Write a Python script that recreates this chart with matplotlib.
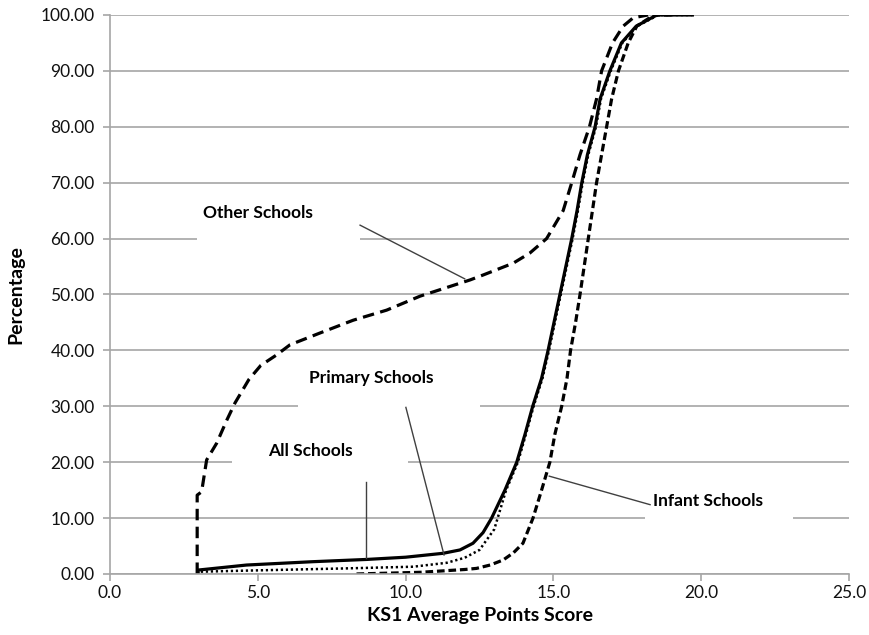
import matplotlib
matplotlib.use("Agg")
import matplotlib.pyplot as plt
from matplotlib.patches import Rectangle

plt.rcParams['font.family'] = ['Lato', 'DejaVu Sans']

# cumulative percentage of schools by KS1 average points score
all_x = [2.98, 2.98, 4.62, 6.87, 8.68, 10.0, 11.27, 11.84, 12.28, 12.62, 12.91, 13.36,
         13.76, 14.04, 14.3, 14.6, 14.82, 15.02, 15.22, 15.42, 15.62, 15.8, 15.96,
         16.15, 16.41, 16.58, 16.91, 17.3, 17.8, 18.5, 19.7]
all_y = [0, 0.7, 1.6, 2.2, 2.6, 3.0, 3.7, 4.3, 5.5, 7.4, 10, 15, 20, 25, 30, 35, 40,
         45, 50, 55, 60, 65, 70, 75, 80, 85, 90, 95, 98, 100, 100]

primary_x = [2.98, 2.98, 4.62, 8.0, 10.26, 11.39, 12.0, 12.5, 13.0, 13.4, 13.8,
             14.07, 14.33, 14.63, 14.85, 15.05, 15.25, 15.45, 15.65, 15.83, 15.99,
             16.18, 16.44, 16.61, 16.94, 17.33, 17.83, 18.55, 19.7]
primary_y = [0, 0.4, 0.6, 1.0, 1.3, 2.0, 2.9, 4.3, 8, 15, 20, 25, 30, 35, 40, 45,
             50, 55, 60, 65, 70, 75, 80, 85, 90, 95, 98, 100, 100]

infant_x = [8.34, 10.5, 12.0, 12.4, 12.86, 13.3, 13.65, 13.97, 14.31, 14.6, 14.88,
            15.05, 15.28, 15.46, 15.58, 15.75, 15.9, 16.04, 16.18, 16.32, 16.46,
            16.63, 16.8, 16.97, 17.2, 17.53, 17.82, 18.4, 19.0]
infant_y = [0, 0.3, 0.8, 1.0, 1.6, 2.5, 3.8, 5.5, 10, 15, 20, 25, 30, 35, 40, 45,
            50, 55, 60, 65, 70, 75, 80, 85, 90, 95, 98, 100, 100]

other_x = [2.95, 2.95, 3.1, 3.27, 3.61, 3.95, 4.23, 4.7, 5.1, 5.64, 6.09, 7.1, 8.23,
           9.36, 10.49, 12.18, 12.63, 13.64, 14.2, 14.77, 15.33, 15.62, 15.9, 16.22,
           16.46, 16.63, 17.0, 17.36, 17.7, 18.2]
other_y = [0, 14.1, 14.7, 20.4, 23.4, 27.5, 30.6, 34.8, 37.3, 39.2, 41, 43.1, 45.4,
           47.2, 49.7, 52.6, 53.5, 55.6, 57.4, 60, 65, 70, 75, 80, 85, 90, 95, 98,
           99.5, 100]

yticks = [0, 10, 20, 30, 40, 50, 60, 70, 80, 90, 100]
xticks = [0, 5, 10, 15, 20, 25]

fig = plt.figure(figsize=(8.7, 6.35), dpi=100)
ax = fig.add_axes([0.1264, 0.0961, 0.8495, 0.8803])

grey = '#a6a6a6'
ax.set_axisbelow(True)
ax.yaxis.grid(True, color=grey, linewidth=1.2)

ax.plot(other_x, other_y, color='black', lw=2.3, linestyle=(0, (3.6, 2.0)))
ax.plot(infant_x, infant_y, color='black', lw=2.3, linestyle=(0, (2.4, 1.2)))
ax.plot(primary_x, primary_y, color='black', lw=1.8, linestyle=(0, (0.9, 1.1)))
ax.plot(all_x, all_y, color='black', lw=2.3)

# white label boxes that break the gridlines, with leader lines
labels = [
    ('Other Schools', 5.0, 64.6, (2.94, 58.5, 5.52, 10.0), [(8.46, 12.0), (62.4, 52.8)]),
    ('Primary Schools', 8.85, 35.0, (6.36, 29.8, 6.16, 8.5), [(10.01, 11.3), (29.8, 3.4)]),
    ('All Schools', 6.77, 22.0, (4.13, 16.5, 5.95, 9.0), [(8.66, 8.66), (16.5, 2.9)]),
    ('Infant Schools', 20.23, 13.1, (18.1, 7.5, 5.0, 9.5), [(14.86, 18.27), (17.5, 12.4)]),
]
for text, tx, ty, box, lead in labels:
    ax.add_patch(Rectangle((box[0], box[1]), box[2], box[3], facecolor='white',
                           edgecolor='none', zorder=1.5))
    ax.plot(lead[0], lead[1], color='#404040', lw=1.0, zorder=3)
    ax.text(tx, ty, text, ha='center', va='center', fontsize=12.5,
            fontweight='bold', zorder=4)

ax.set_xlim(0, 25)
ax.set_ylim(0, 100)
ax.set_xticks(xticks)
ax.set_yticks(yticks)
ax.set_xticklabels(['%.1f' % v for v in xticks])
ax.set_yticklabels(['%.2f' % v for v in yticks])
ax.tick_params(axis='both', direction='out', length=5, width=1.2, color=grey,
               labelsize=12.5, labelcolor='#111111')
ax.tick_params(axis='y', pad=6)
ax.tick_params(axis='x', pad=3)

for side in ['top', 'right']:
    ax.spines[side].set_visible(False)
for side in ['left', 'bottom']:
    ax.spines[side].set_color(grey)
    ax.spines[side].set_linewidth(1.2)

ax.set_xlabel('KS1 Average Points Score', fontsize=14, fontweight='bold', labelpad=4)
ax.set_ylabel('Percentage', fontsize=14, fontweight='bold', labelpad=12)

fig.savefig('out.png', dpi=100)
